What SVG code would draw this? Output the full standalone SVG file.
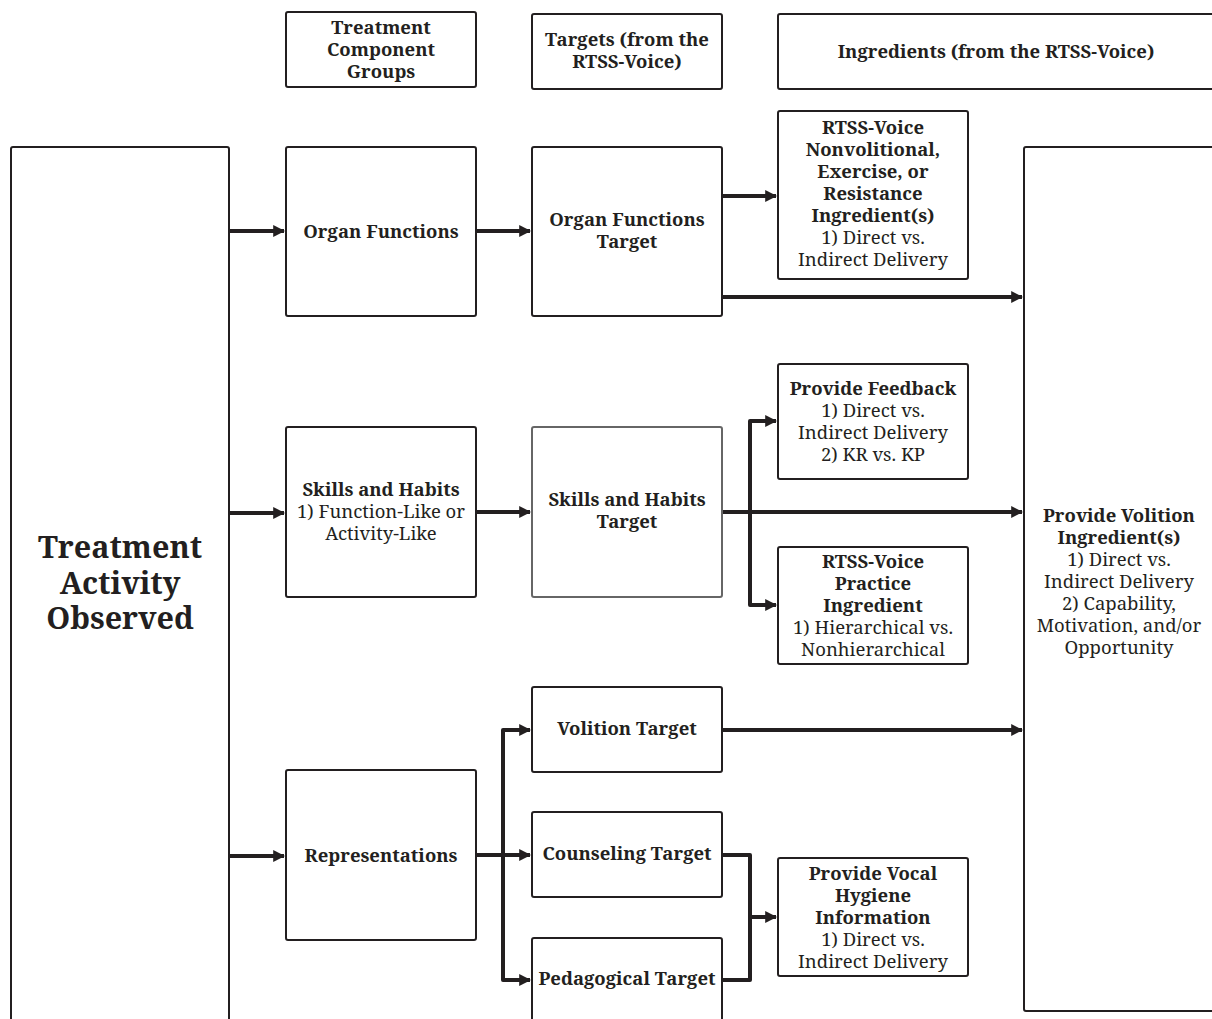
<svg xmlns="http://www.w3.org/2000/svg" width="1212" height="1019" viewBox="0 0 1212 1019">
<defs>
<marker id="ah" viewBox="0 0 10 10" refX="9" refY="5" markerWidth="3" markerHeight="3" orient="auto" markerUnits="strokeWidth">
<path d="M0,0 L10,5 L0,10 z" fill="#231f20"/>
</marker>
<style>
.box{fill:#fff;stroke:#231f20;stroke-width:2}
.grey{stroke:#666}
text{font-family:"Noto Serif","DejaVu Serif",serif;font-size:18.5px;fill:#231f20;text-anchor:middle}
.b{font-weight:bold}
.big{font-size:30.5px;font-weight:bold}
.c{fill:none;stroke:#231f20;stroke-width:4;stroke-linejoin:round}
.a{marker-end:url(#ah)}
</style>
</defs>
<rect width="1212" height="1019" fill="#fff"/>
<g id="connectors">
<path class="c a" d="M229,231 H284"/>
<path class="c a" d="M476,231 H530"/>
<path class="c a" d="M722,196 H776"/>
<path class="c a" d="M722,297 H1022"/>
<path class="c a" d="M229,513 H284"/>
<path class="c a" d="M476,512 H530"/>
<path class="c a" d="M722,512 H1022"/>
<path class="c a" d="M750,512 V421 H776"/>
<path class="c a" d="M750,512 V605 H776"/>
<path class="c a" d="M229,856 H284"/>
<path class="c a" d="M476,855 H530"/>
<path class="c a" d="M503,855 V730 H530"/>
<path class="c a" d="M503,855 V980 H530"/>
<path class="c a" d="M722,730 H1022"/>
<path class="c" d="M722,855 H750 V980 H722"/>
<path class="c a" d="M750,917 H776"/>
</g>
<g id="h1"><rect class="box" x="286" y="12" width="190" height="75" rx="2"/>
<text class="b" x="381" y="34">Treatment</text><text class="b" x="381" y="56">Component</text><text class="b" x="381" y="78">Groups</text></g>
<g id="h2"><rect class="box" x="532" y="14" width="190" height="75" rx="2"/>
<text class="b" x="627" y="46">Targets (from the</text><text class="b" x="627" y="68">RTSS-Voice)</text></g>
<g id="h3"><rect class="box" x="778" y="14" width="440" height="75" rx="2"/>
<text class="b" x="996" y="58">Ingredients (from the RTSS-Voice)</text></g>
<g id="observed"><rect class="box" x="11" y="147" width="218" height="880" rx="2"/>
<text class="big" x="120" y="558">Treatment</text><text class="big" x="120" y="594">Activity</text><text class="big" x="120" y="629">Observed</text></g>
<g id="organ"><rect class="box" x="286" y="147" width="190" height="169" rx="2"/>
<text class="b" x="381" y="238">Organ Functions</text></g>
<g id="organT"><rect class="box" x="532" y="147" width="190" height="169" rx="2"/>
<text class="b" x="627" y="226">Organ Functions</text><text class="b" x="627" y="248">Target</text></g>
<g id="nonvol"><rect class="box" x="778" y="111" width="190" height="168" rx="2"/>
<text class="b" x="873" y="134">RTSS-Voice</text><text class="b" x="873" y="156">Nonvolitional,</text><text class="b" x="873" y="178">Exercise, or</text><text class="b" x="873" y="200">Resistance</text><text class="b" x="873" y="222">Ingredient(s)</text>
<text x="873" y="244">1) Direct vs.</text><text x="873" y="266">Indirect Delivery</text></g>
<g id="skills"><rect class="box" x="286" y="427" width="190" height="170" rx="2"/>
<text class="b" x="381" y="496">Skills and Habits</text><text x="381" y="518">1) Function-Like or</text><text x="381" y="540">Activity-Like</text></g>
<g id="skillsT"><rect class="box grey" x="532" y="427" width="190" height="170" rx="2"/>
<text class="b" x="627" y="506">Skills and Habits</text><text class="b" x="627" y="528">Target</text></g>
<g id="feedback"><rect class="box" x="778" y="364" width="190" height="115" rx="2"/>
<text class="b" x="873" y="395">Provide Feedback</text><text x="873" y="417">1) Direct vs.</text><text x="873" y="439">Indirect Delivery</text><text x="873" y="461">2) KR vs. KP</text></g>
<g id="practice"><rect class="box" x="778" y="547" width="190" height="117" rx="2"/>
<text class="b" x="873" y="568">RTSS-Voice</text><text class="b" x="873" y="590">Practice</text><text class="b" x="873" y="612">Ingredient</text><text x="873" y="634">1) Hierarchical vs.</text><text x="873" y="656">Nonhierarchical</text></g>
<g id="volitionIng"><rect class="box" x="1024" y="147" width="200" height="864" rx="2"/>
<text class="b" x="1119" y="522">Provide Volition</text><text class="b" x="1119" y="544">Ingredient(s)</text><text x="1119" y="566">1) Direct vs.</text><text x="1119" y="588">Indirect Delivery</text><text x="1119" y="610">2) Capability,</text><text x="1119" y="632">Motivation, and/or</text><text x="1119" y="654">Opportunity</text></g>
<g id="repr"><rect class="box" x="286" y="770" width="190" height="170" rx="2"/>
<text class="b" x="381" y="862">Representations</text></g>
<g id="volT"><rect class="box" x="532" y="687" width="190" height="85" rx="2"/>
<text class="b" x="627" y="735">Volition Target</text></g>
<g id="counsT"><rect class="box" x="532" y="812" width="190" height="85" rx="2"/>
<text class="b" x="627" y="860">Counseling Target</text></g>
<g id="pedT"><rect class="box" x="532" y="938" width="190" height="90" rx="2"/>
<text class="b" x="627" y="985">Pedagogical Target</text></g>
<g id="hygiene"><rect class="box" x="778" y="858" width="190" height="118" rx="2"/>
<text class="b" x="873" y="880">Provide Vocal</text><text class="b" x="873" y="902">Hygiene</text><text class="b" x="873" y="924">Information</text><text x="873" y="946">1) Direct vs.</text><text x="873" y="968">Indirect Delivery</text></g>
</svg>
